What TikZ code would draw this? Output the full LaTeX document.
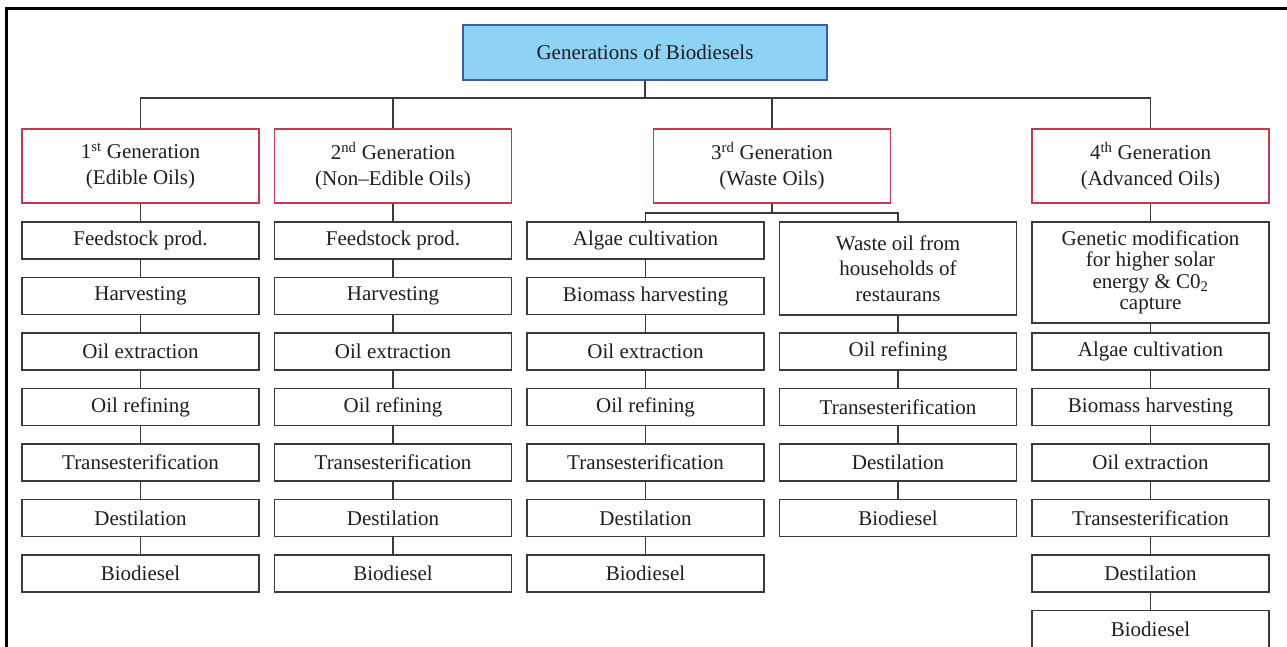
\documentclass[tikz,border=0pt]{standalone}
\usepackage{fontspec}
\setmainfont{Liberation Serif}
\definecolor{txt}{HTML}{1E1E1E}
\definecolor{topfill}{HTML}{8ED3F5}
\definecolor{topdraw}{HTML}{3B5E9C}
\definecolor{genred}{HTML}{C23A52}
\definecolor{boxgray}{HTML}{3A3A3A}
\begin{document}
\begin{tikzpicture}[x=1pt,y=-1pt,
  every node/.style={font=\fontsize{21}{25.5}\selectfont, text=txt, align=center, inner sep=0pt},
  topbox/.style={draw=topdraw, fill=topfill, line width=1.3pt, minimum width=364pt, minimum height=55pt},
  genbox/.style={draw=genred, line width=1.2pt, minimum width=237pt, minimum height=74pt},
  stepbox/.style={draw=boxgray, line width=1.3pt, minimum width=237pt, minimum height=37pt},
  conn/.style={draw=boxgray, line width=1.2pt}
]
\useasboundingbox (0,0) rectangle (1287,647);
% frame
\draw[line width=3pt, black] (6,650) -- (6,9) -- (1290,9);

% top
\node[topbox] (top) at (645,52.5) {Generations of Biodiesels};
\coordinate (bus) at (645,98);

% generations
\node[genbox] (g1) at (140.5,166) {1\textsuperscript{st} Generation\\(Edible Oils)};
\node[genbox] (g2) at (393,166) {2\textsuperscript{nd} Generation\\(Non–Edible Oils)};
\node[genbox] (g3) at (772,166) {3\textsuperscript{rd} Generation\\(Waste Oils)};
\node[genbox] (g4) at (1150.5,166) {4\textsuperscript{th} Generation\\(Advanced Oils)};

% column 1
\node[stepbox] (a1) at (140.5,240.5) {Feedstock prod.};
\node[stepbox] (a2) at (140.5,296) {Harvesting};
\node[stepbox] (a3) at (140.5,351.5) {Oil extraction};
\node[stepbox] (a4) at (140.5,407) {Oil refining};
\node[stepbox] (a5) at (140.5,462.5) {Transesterification};
\node[stepbox] (a6) at (140.5,518) {Destilation};
\node[stepbox] (a7) at (140.5,573.5) {Biodiesel};

% column 2
\node[stepbox] (b1) at (393,240.5) {Feedstock prod.};
\node[stepbox] (b2) at (393,296) {Harvesting};
\node[stepbox] (b3) at (393,351.5) {Oil extraction};
\node[stepbox] (b4) at (393,407) {Oil refining};
\node[stepbox] (b5) at (393,462.5) {Transesterification};
\node[stepbox] (b6) at (393,518) {Destilation};
\node[stepbox] (b7) at (393,573.5) {Biodiesel};

% column 3a
\node[stepbox] (c1) at (645.5,240.5) {Algae cultivation};
\node[stepbox] (c2) at (645.5,296) {Biomass harvesting};
\node[stepbox] (c3) at (645.5,351.5) {Oil extraction};
\node[stepbox] (c4) at (645.5,407) {Oil refining};
\node[stepbox] (c5) at (645.5,462.5) {Transesterification};
\node[stepbox] (c6) at (645.5,518) {Destilation};
\node[stepbox] (c7) at (645.5,573.5) {Biodiesel};

% column 3b
\node[stepbox, minimum height=93pt] (d1) at (898,268.5) {Waste oil from\\households of\\restaurans};
\node[stepbox] (d2) at (898,351.5) {Oil refining};
\node[stepbox] (d3) at (898,407) {Transesterification};
\node[stepbox] (d4) at (898,462.5) {Destilation};
\node[stepbox] (d5) at (898,518) {Biodiesel};

% column 4
\node[stepbox, minimum height=101pt, font=\fontsize{21}{21.5}\selectfont] (e1) at (1150.5,272.5) {Genetic modification\\for higher solar\\energy \& C0\textsubscript{2}\\capture};
\node[stepbox] (e2) at (1150.5,351.5) {Algae cultivation};
\node[stepbox] (e3) at (1150.5,407) {Biomass harvesting};
\node[stepbox] (e4) at (1150.5,462.5) {Oil extraction};
\node[stepbox] (e5) at (1150.5,518) {Transesterification};
\node[stepbox] (e6) at (1150.5,573.5) {Destilation};
\node[stepbox] (e7) at (1150.5,629) {Biodiesel};

% connectors
\draw[conn] (top.south) -- (bus);
\draw[conn] (g1.north) |- (bus) -| (g4.north);
\draw[conn] (g2.north) -- (g2.north |- bus);
\draw[conn] (g3.north) -- (g3.north |- bus);

\coordinate (split) at (772,213);
\draw[conn] (g3.south) -- (split);
\draw[conn] (c1.north) |- (split) -| (d1.north);

\draw[conn] (g1) -- (a1) -- (a2) -- (a3) -- (a4) -- (a5) -- (a6) -- (a7);
\draw[conn] (g2) -- (b1) -- (b2) -- (b3) -- (b4) -- (b5) -- (b6) -- (b7);
\draw[conn] (c1) -- (c2) -- (c3) -- (c4) -- (c5) -- (c6) -- (c7);
\draw[conn] (d1) -- (d2) -- (d3) -- (d4) -- (d5);
\draw[conn] (g4) -- (e1) -- (e2) -- (e3) -- (e4) -- (e5) -- (e6) -- (e7);
\end{tikzpicture}
\end{document}
